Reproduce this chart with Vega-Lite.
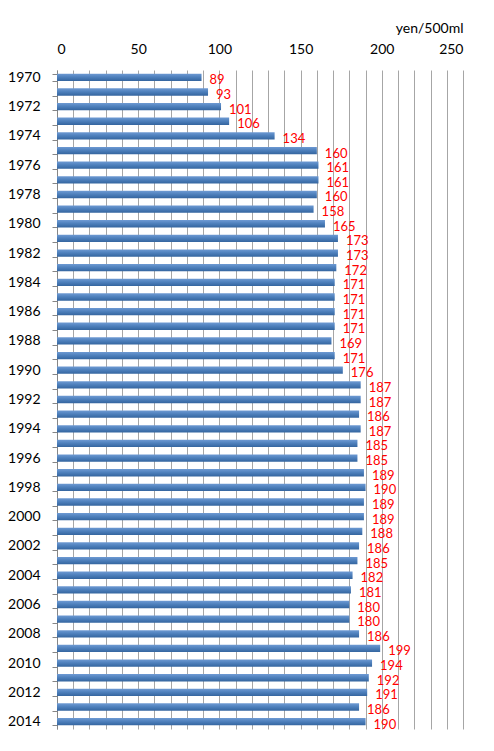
{
  "$schema": "https://vega.github.io/schema/vega-lite/v6.json",
  "autosize": "none",
  "width": 406,
  "height": 659,
  "padding": {"left": 57, "top": 70, "right": 31, "bottom": 22},
  "background": "white",
  "data": {
    "values": [
      {"year": 1970, "price": 89}, {"year": 1971, "price": 93}, {"year": 1972, "price": 101},
      {"year": 1973, "price": 106}, {"year": 1974, "price": 134}, {"year": 1975, "price": 160},
      {"year": 1976, "price": 161}, {"year": 1977, "price": 161}, {"year": 1978, "price": 160},
      {"year": 1979, "price": 158}, {"year": 1980, "price": 165}, {"year": 1981, "price": 173},
      {"year": 1982, "price": 173}, {"year": 1983, "price": 172}, {"year": 1984, "price": 171},
      {"year": 1985, "price": 171}, {"year": 1986, "price": 171}, {"year": 1987, "price": 171},
      {"year": 1988, "price": 169}, {"year": 1989, "price": 171}, {"year": 1990, "price": 176},
      {"year": 1991, "price": 187}, {"year": 1992, "price": 187}, {"year": 1993, "price": 186},
      {"year": 1994, "price": 187}, {"year": 1995, "price": 185}, {"year": 1996, "price": 185},
      {"year": 1997, "price": 189}, {"year": 1998, "price": 190}, {"year": 1999, "price": 189},
      {"year": 2000, "price": 189}, {"year": 2001, "price": 188}, {"year": 2002, "price": 186},
      {"year": 2003, "price": 185}, {"year": 2004, "price": 182}, {"year": 2005, "price": 181},
      {"year": 2006, "price": 180}, {"year": 2007, "price": 180}, {"year": 2008, "price": 186},
      {"year": 2009, "price": 199}, {"year": 2010, "price": 194}, {"year": 2011, "price": 192},
      {"year": 2012, "price": 191}, {"year": 2013, "price": 186}, {"year": 2014, "price": 190}
    ]
  },
  "encoding": {
    "y": {
      "field": "year",
      "type": "ordinal",
      "scale": {"paddingInner": 0.5, "paddingOuter": 0.25},
      "axis": {
        "title": null,
        "tickBand": "extent",
        "tickSize": 5,
        "tickColor": "#868686",
        "domainColor": "#868686",
        "labelExpr": "datum.value % 2 == 0 ? datum.value : ''",
        "labelPadding": 12,
        "labelFontSize": 14,
        "labelColor": "black",
        "labelFont": "Lato"
      }
    },
    "x": {
      "field": "price",
      "type": "quantitative",
      "scale": {"domain": [0, 250], "nice": false},
      "axis": {
        "orient": "top",
        "values": [0, 10, 20, 30, 40, 50, 60, 70, 80, 90, 100, 110, 120, 130, 140, 150, 160, 170, 180, 190, 200, 210, 220, 230, 240, 250],
        "labelExpr": "datum.value % 50 == 0 ? datum.value : ''",
        "ticks": false,
        "domain": false,
        "grid": true,
        "gridColor": "#a6a6a6",
        "gridWidth": 1,
        "labelPadding": 14,
        "labelFontSize": 14,
        "labelColor": "black",
        "labelFont": "Lato",
        "title": "yen/500ml",
        "titleAnchor": "end",
        "titleFont": "Lato",
        "titleFontSize": 14,
        "titleFontWeight": "normal",
        "titlePadding": 7,
        "titleX": 406,
        "titleAlign": "right"
      }
    }
  },
  "layer": [
    {
      "mark": {
        "type": "bar",
        "color": {
          "gradient": "linear",
          "x1": 0, "y1": 0, "x2": 0, "y2": 1,
          "stops": [
            {"offset": 0, "color": "#6e9ad3"},
            {"offset": 0.45, "color": "#4f81bd"},
            {"offset": 1, "color": "#34659f"}
          ]
        }
      }
    },
    {
      "mark": {"type": "text", "align": "left", "dx": 8, "dy": 3, "fontSize": 13, "font": "Lato", "color": "#ff0000"},
      "encoding": {"text": {"field": "price", "type": "quantitative"}}
    }
  ],
  "config": {
    "view": {"stroke": null}
  }
}
